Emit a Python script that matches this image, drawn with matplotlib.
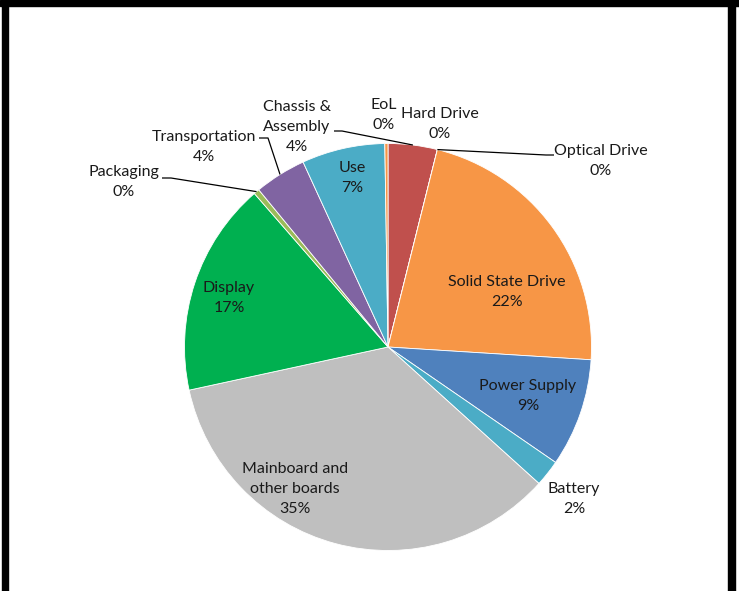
import matplotlib
matplotlib.use("Agg")
import matplotlib.pyplot as plt
import numpy as np
from matplotlib.patches import Rectangle

# ---- data (clockwise from 12 o'clock) ----
categories = ["Chassis &\nAssembly", "Hard Drive", "Optical Drive", "Solid State Drive",
              "Power Supply", "Battery", "Mainboard and\nother boards", "Display",
              "Packaging", "Transportation", "Use", "EoL"]
values = [3.9, 0.0, 0.0, 22.1, 8.6, 2.1, 34.9, 17.0, 0.45, 4.1, 6.6, 0.25]
colors = ["#C0504D", "#C0504D", "#C0504D", "#F79646", "#4F81BD", "#4BACC6",
          "#BFBFBF", "#00B050", "#9BBB59", "#8064A2", "#4BACC6", "#F79646"]

W, H = 739, 591
fig = plt.figure(figsize=(W / 100, H / 100), dpi=100)
ax = fig.add_axes([0, 0, 1, 1])

cx, cy, R = 388, H - 347, 203.5
wedges, _ = ax.pie(values, colors=colors, startangle=90, counterclock=False,
                   center=(cx, cy), radius=R, frame=True,
                   wedgeprops=dict(linewidth=0.6, edgecolor="white"))
ax.set_xlim(0, W)
ax.set_ylim(0, H)
ax.set_aspect("equal")
ax.axis("off")

FONT = "Lato"
FS = 11.5
TC = "#1a1a1a"
DY = 2  # vertical nudge (pixels, downward)

# label centers in pixel coords (x, y from top)
label_pos = {
    "Chassis &\nAssembly": (297, 125),
    "Hard Drive": (440, 122),
    "Optical Drive": (601, 159),
    "Solid State Drive": (507, 290),
    "Power Supply": (528, 394),
    "Battery": (574, 497),
    "Mainboard and\nother boards": (295, 487),
    "Display": (229, 296),
    "Packaging": (124, 180),
    "Transportation": (204, 145),
    "Use": (352, 176),
    "EoL": (384, 113),
}
# leader line start points (label side), pixel coords from top
leaders = {
    "Chassis &\nAssembly": [(334, 131), (342, 131)],
    "Optical Drive": [(554, 155), (546, 155)],
    "Packaging": [(162, 178), (171, 178)],
    "Transportation": [(259, 138), (268, 138)],
}

for w, cat, v in zip(wedges, categories, values):
    lx, ly = label_pos[cat]
    ax.text(lx, H - ly - DY, f"{cat}\n{round(v):.0f}%", ha="center", va="center",
            fontsize=FS, family=FONT, color=TC, linespacing=1.55)
    if cat in leaders:
        mid = np.deg2rad((w.theta1 + w.theta2) / 2)
        ex, ey = cx + R * np.cos(mid), cy + R * np.sin(mid)
        pts = [(px, H - py) for px, py in leaders[cat]] + [(ex, ey)]
        xs, ys = zip(*pts)
        ax.plot(xs, ys, color="black", lw=0.9, solid_capstyle="butt")

# black frame
for (x0, y0, w_, h_) in [(0, H - 6, W, 6), (2, 0, 6, H), (728, 0, 7, H)]:
    ax.add_patch(Rectangle((x0, y0), w_, h_, color="black", zorder=10))

fig.savefig("out.png", dpi=100)
